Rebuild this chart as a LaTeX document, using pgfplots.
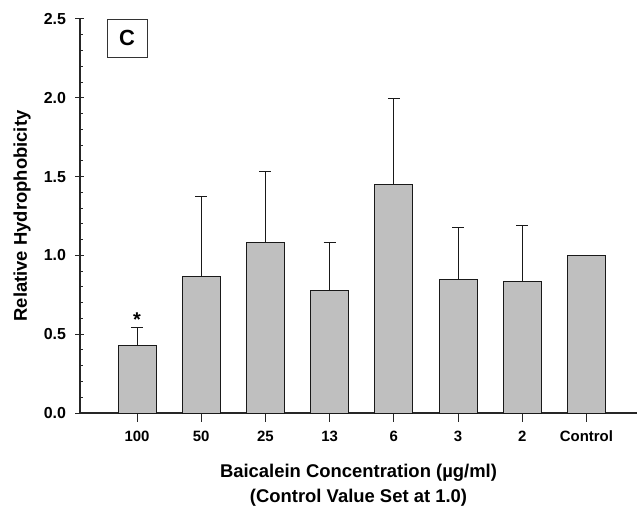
\documentclass[border=0pt]{standalone}
\usepackage{pgfplots}
\pgfplotsset{compat=1.18}
\usepackage{pgfplotstable}
\usepackage{fontspec}
\setmainfont{Liberation Sans}
\usetikzlibrary{calc}

\pgfplotstableread{
x y err
1 0.430 0.115
2 0.867 0.508
3 1.083 0.451
4 0.776 0.309
5 1.453 0.541
6 0.848 0.328
7 0.836 0.352
}\datatable
\pgfplotstableread{
x y
8 1.0
}\controltable

\begin{document}
\begin{tikzpicture}
\begin{axis}[
  scale only axis, width=557bp, height=394bp,
  xmin=0.112, xmax=8.788, ymin=0, ymax=2.5,
  axis x line=bottom, axis y line=left,
  axis line style={-, line width=1.1pt, black!85},
  xtick={1,...,8}, xticklabels={100,50,25,13,6,3,2,Control},
  ytick={0,0.5,...,2.5}, minor y tick num=4,
  tick align=center,
  major tick length=9bp, minor tick length=3bp,
  every tick/.style={black!85, line width=1pt},
  x tick style={yshift=-4bp},
  minor y tick style={xshift=1.5bp},
  /pgf/number format/assume math mode=true,
  y tick label style={/pgf/number format/.cd, fixed, fixed zerofill, precision=1, /tikz/.cd,
    font=\fontsize{16}{16}\selectfont\bfseries, xshift=-6bp},
  x tick label style={font=\fontsize{15}{16}\selectfont\bfseries, yshift=-10bp},
  xlabel={Baicalein Concentration (µg/ml)\\(Control Value Set at 1.0)},
  xlabel style={at={(axis description cs:0.5,-0.129)}, anchor=north, inner sep=0pt,
    align=center, font=\fontsize{18.5}{25}\selectfont\bfseries},
  ylabel={Relative Hydrophobicity},
  ylabel style={at={(axis description cs:-0.088,0.5)}, anchor=south, inner sep=0pt,
    font=\fontsize{18.5}{22}\selectfont\bfseries},
  clip=false,
]
\addplot[ybar, bar shift=0pt, bar width=38bp, fill=black!25, draw=black!90, line width=0.9pt,
  error bars/.cd, y dir=plus, y explicit,
  error bar style={line width=1pt, black!90},
  error mark options={rotate=90, mark size=6bp, line width=1pt, black!90}]
  table[x=x, y=y, y error=err]{\datatable};
\addplot[ybar, bar shift=0pt, bar width=38bp, fill=black!25, draw=black!90, line width=0.9pt]
  table[x=x, y=y]{\controltable};
\node[font=\fontsize{20}{20}\selectfont\bfseries] at (axis cs:1,0.59) {*};
\node[draw=black!80, line width=0.8pt, minimum width=40bp, minimum height=38bp, inner sep=0pt,
  anchor=north, font=\fontsize{22}{22}\selectfont\bfseries] at (rel axis cs:0.0844,1) {C};
\end{axis}
\pgfresetboundingbox
\path[use as bounding box] ($(current axis.south west)+(-80bp,-95bp)$) rectangle ($(current axis.north east)+(0bp,19bp)$);
\end{tikzpicture}
\end{document}
